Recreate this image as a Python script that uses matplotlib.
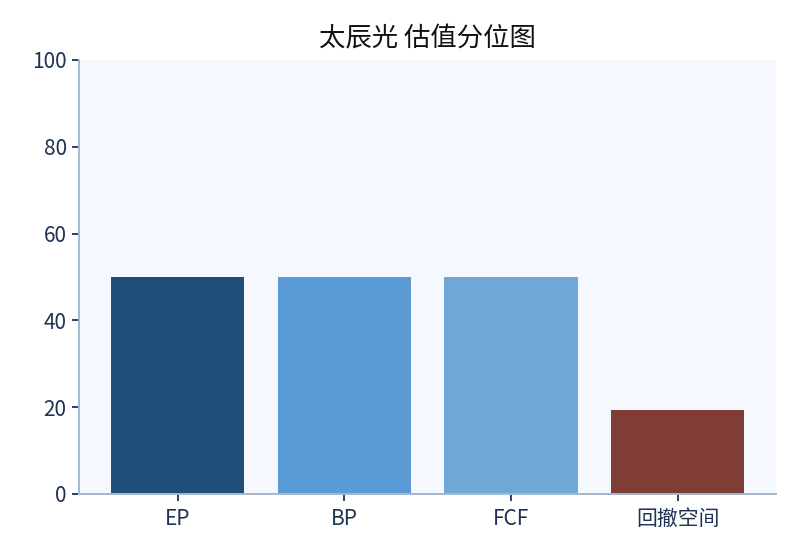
import matplotlib
matplotlib.use("Agg")
import matplotlib.pyplot as plt

plt.rcParams["font.family"] = ["Noto Sans CJK SC", "DejaVu Sans"]

categories = ["EP", "BP", "FCF", "回撤空间"]
values = [50, 50, 50, 19.4]
colors = ["#1f4e79", "#5b9bd5", "#6fa8d6", "#7f3d34"]

fig = plt.figure(figsize=(8, 5.6), dpi=100)
ax = fig.add_axes([0.099, 0.118, 0.871, 0.775])
ax.set_facecolor("#f5f9ff")

ax.bar(range(len(categories)), values, width=0.8, color=colors)
ax.set_xticks(range(len(categories)))
ax.set_xticklabels(categories)
ax.set_ylim(0, 100)
ax.set_yticks([0, 20, 40, 60, 80, 100])

for s in ["top", "right"]:
    ax.spines[s].set_visible(False)
for s in ["left", "bottom"]:
    ax.spines[s].set_color("#a3b8cf")
    ax.spines[s].set_linewidth(1.4)
ax.tick_params(colors="#1f3354", labelsize=15, length=5, width=1.3, pad=4)
ax.tick_params(axis="x", pad=5)

ax.set_title("太辰光 估值分位图", fontsize=19, color="#111111", pad=10)

fig.savefig("out.png", dpi=100)
